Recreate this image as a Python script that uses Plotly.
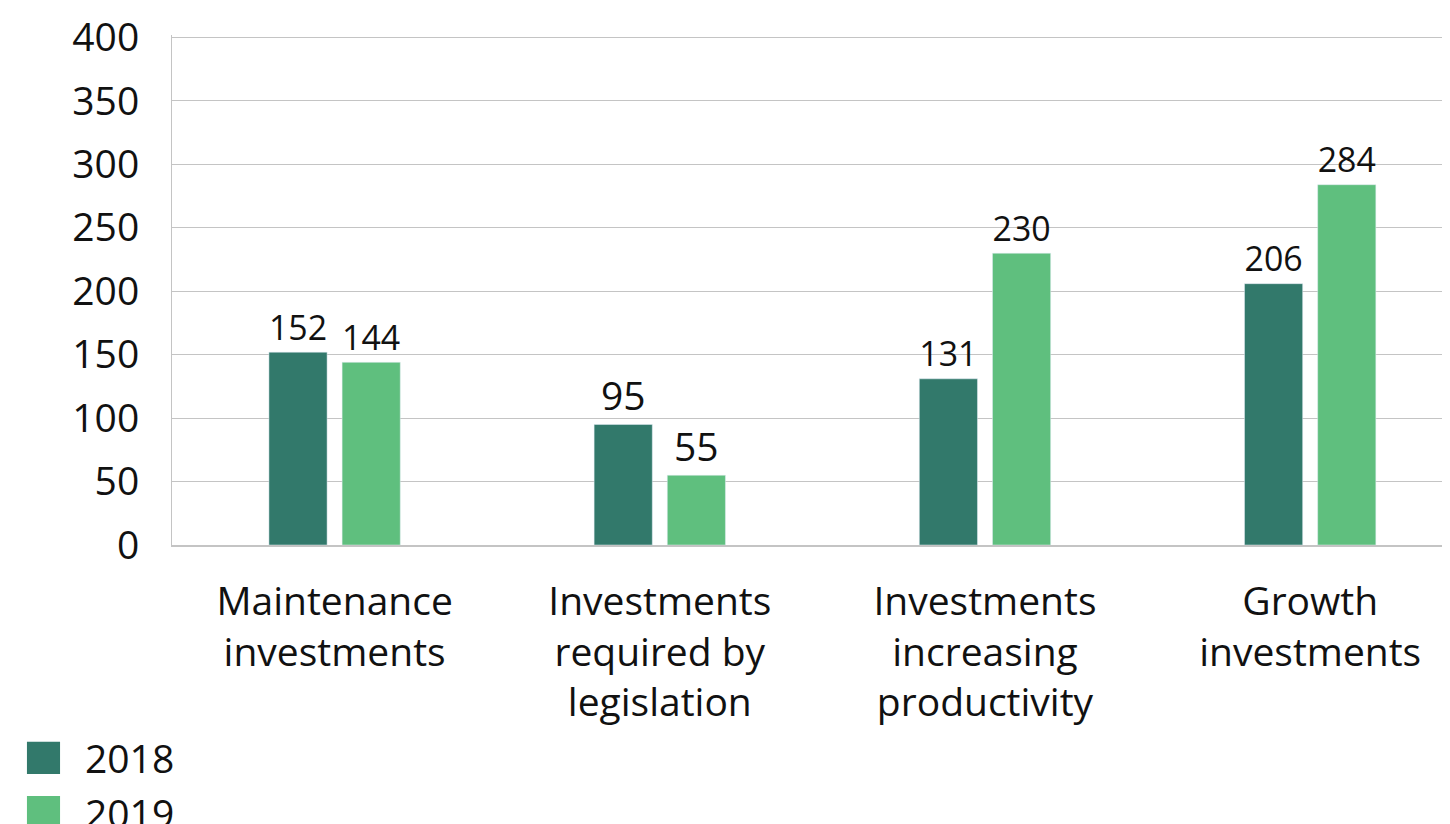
import plotly.graph_objects as go

categories = ["Maintenance<br>investments", "Investments<br>required by<br>legislation",
              "Investments<br>increasing<br>productivity", "Growth<br>investments"]
series_names = ["2018", "2019"]
values_2018 = [152, 95, 131, 206]
values_2019 = [144, 55, 230, 284]
colors = ["#32796B", "#5FBF7E"]
y_ticks = [0, 50, 100, 150, 200, 250, 300, 350, 400]

FONT = "Open Sans"
FS = 39

fig = go.Figure()
for name, vals, col in zip(series_names, [values_2018, values_2019], colors):
    fig.add_trace(go.Bar(
        x=categories, y=vals, name=name, marker_color=col,
        text=[str(v) for v in vals], textposition="outside",
        textfont=dict(family=FONT, size=FS, color="#111"),
        cliponaxis=False, showlegend=False,
    ))

# page body has an 8px margin: compensate so the plot area lands where the reference has it
fig.update_layout(
    width=1450, height=824,
    margin=dict(l=164, r=8, t=27, b=287, autoexpand=False),
    paper_bgcolor="white", plot_bgcolor="white",
    barmode="group", bargap=0.55, bargroupgap=0.205,
    font=dict(family=FONT, size=FS, color="#111"),
    xaxis=dict(range=[-0.5, 3.43], showline=True, linecolor="#c4c4c4", linewidth=2,
               tickfont=dict(family=FONT, size=FS), ticks="", showgrid=False,
               ticklabelstandoff=21, automargin=False),
    yaxis=dict(range=[0, 402], tickvals=y_ticks, showgrid=True, gridcolor="#c4c4c4",
               gridwidth=1, showline=True, linecolor="#c4c4c4", linewidth=1,
               zeroline=False, ticks="", tickfont=dict(family=FONT, size=FS),
               ticklabelstandoff=24, automargin=False),
)

# manual legend (large squares)
legend_rows = [(-0.386, -0.449), (-0.492, -0.557)]
for (y0, y1), name, col in zip(legend_rows, series_names, colors):
    fig.add_shape(type="rect", xref="paper", yref="paper", x0=-0.1135, x1=-0.0876,
                  y0=y1, y1=y0, fillcolor=col, line_width=0)
    fig.add_annotation(xref="paper", yref="paper", x=-0.0696, y=(y0 + y1) / 2,
                       xanchor="left", yanchor="middle", text=name, showarrow=False,
                       font=dict(family=FONT, size=FS, color="#111"))

fig.write_html("out.html")
